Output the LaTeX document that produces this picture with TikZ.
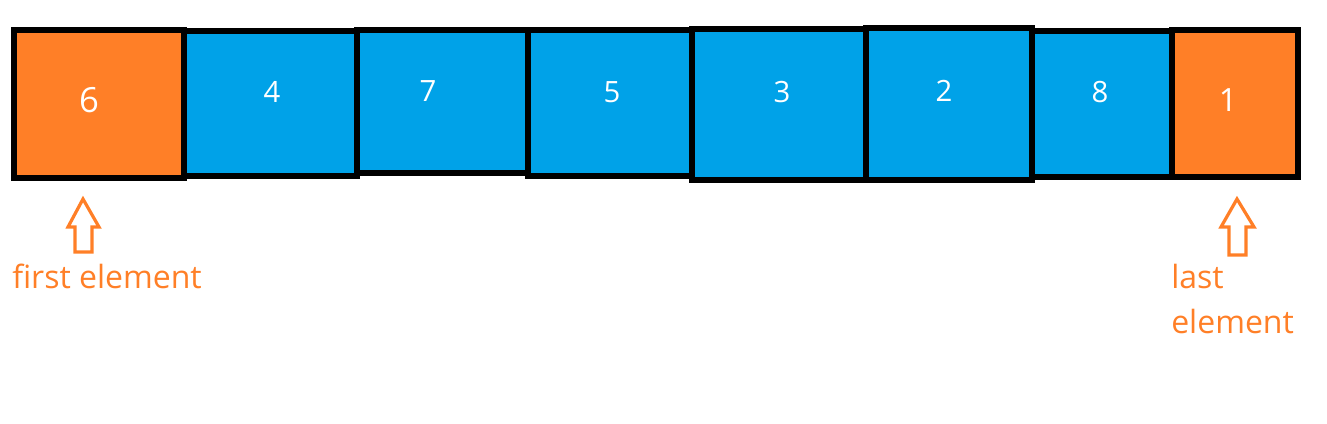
\documentclass[tikz,border=0pt]{standalone}
\usepackage{fontspec}
\setmainfont{Open Sans}
\usetikzlibrary{fit}
\definecolor{paintorange}{HTML}{FF7F27}
\definecolor{paintblue}{HTML}{00A2E8}
\tikzset{
  cell/.style={draw=black, line width=4.3pt, inner sep=0pt},
  orangecell/.style={cell, fill=paintorange},
  bluecell/.style={cell, fill=paintblue},
  digit/.style={text=white, font=\fontsize{22}{26}\selectfont, inner sep=0pt},
  label/.style={text=paintorange, font=\fontsize{24}{34}\selectfont, inner sep=0pt, anchor=west, align=left},
  hollowarrow/.style={draw=paintorange, line width=2.4pt, line join=miter},
}
\begin{document}
\begin{tikzpicture}[x=0.75pt, y=-0.75pt]
\useasboundingbox (0,0) rectangle (1327,424);
\node[orangecell, fit={(14,30) (184,178)}] (c1) {};
\node[bluecell, fit={(184,31) (357,176)}] (c2) {};
\node[bluecell, fit={(357,30) (528,173)}] (c3) {};
\node[bluecell, fit={(528,30) (692,176)}] (c4) {};
\node[bluecell, fit={(692,29) (866,180)}] (c5) {};
\node[bluecell, fit={(866,28) (1032,180)}] (c6) {};
\node[bluecell, fit={(1032,31) (1172,177)}] (c7) {};
\node[orangecell, fit={(1172,30) (1298,177)}] (c8) {};
\node[digit, font=\fontsize{26}{30}\selectfont] (d1) at (89,100) {6};
\node[digit] (d2) at (272,92) {4};
\node[digit] (d3) at (428,91) {7};
\node[digit] (d4) at (612,92) {5};
\node[digit] (d5) at (782,92) {3};
\node[digit] (d6) at (944,91) {2};
\node[digit] (d7) at (1100,92) {8};
\node[digit, font=\fontsize{24}{28}\selectfont] (d8) at (1228,100) {1};
\draw[hollowarrow] (83,199) -- (99,227) -- (92,227) -- (92,252) -- (75,252) -- (75,227) -- (68,227) -- cycle;
\draw[hollowarrow] (1237,199) -- (1254,227) -- (1246,227) -- (1246,255) -- (1229,255) -- (1229,227) -- (1221,227) -- cycle;
\node[label] (first) at (12,276) {first element};
\node[label] (last) at (1171,299) {last\\element};
\end{tikzpicture}
\end{document}
